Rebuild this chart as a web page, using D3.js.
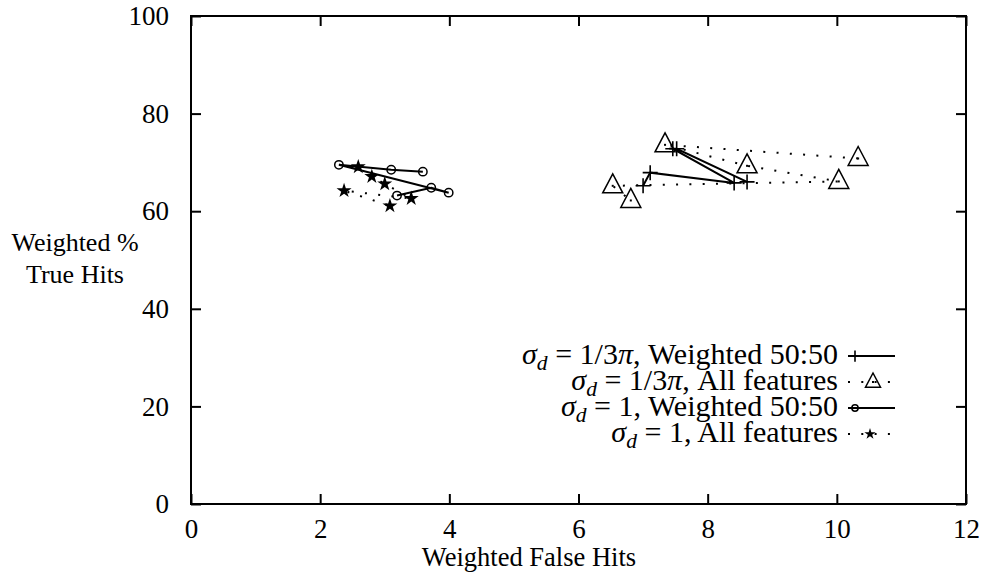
<!DOCTYPE html>
<html><head><meta charset="utf-8"><script src="https://cdn.jsdelivr.net/npm/d3@7"></script></head>
<body style="margin:0">
<svg id="figure" width="985" height="576"></svg>
<script>
// ---- data ----
const xTicks = [0, 2, 4, 6, 8, 10, 12];
const yTicks = [0, 20, 40, 60, 80, 100];

// sigma_d = 1/3pi, Weighted 50:50 (plus, solid)
const plusX = [7.00, 7.11, 8.41, 7.46, 7.52, 8.61];
const plusY = [65.2, 67.9, 65.8, 72.8, 72.8, 66.0];
// sigma_d = 1/3pi, All features (triangle, dotted)
const triX = [10.33, 7.34, 8.61, 10.03, 6.53, 6.81];
const triY = [70.8, 73.6, 69.3, 66.1, 65.2, 62.2];
// sigma_d = 1, Weighted 50:50 (circle, solid)
const circX = [3.59, 3.10, 2.29, 3.99, 3.72, 3.19];
const circY = [68.1, 68.5, 69.5, 63.8, 64.8, 63.2];
// sigma_d = 1, All features (star, dotted)
const starX = [2.59, 2.80, 3.00, 3.41, 2.37, 3.08];
const starY = [69.1, 67.1, 65.6, 62.6, 64.2, 61.1];

const sigmaValues = ["1/3π", "1/3π", "1", "1"];
const featureLabels = ["Weighted 50:50", "All features", "Weighted 50:50", "All features"];
const markerKinds = ["plus", "triangle", "circle", "star"];
const lineKinds = ["solid", "dotted", "solid", "dotted"];

const xTitle = "Weighted False Hits";
const yTitleLines = ["Weighted %", "True Hits"];

// ---- layout ----
const SERIF = '"Liberation Serif", "Times New Roman", Tinos';
const L = 191, R = 966, T = 16, B = 504;
const svg = d3.select("#figure");
const x = d3.scaleLinear().domain([0, 12]).range([L, R]);
const y = d3.scaleLinear().domain([0, 100]).range([B, T]);
const DOT = "2,11.3";

function txt(sel, size) {
  return sel.style("font-family", SERIF, "important").style("font-size", (size || 26) + "px", "important");
}

// axes (ticks inward, mirrored)
const tickLen = 10;
function styleAxis(g) {
  g.attr("font-family", null).attr("font-size", null);
  g.select(".domain").remove();
  g.selectAll(".tick line").attr("stroke", "#000").attr("stroke-width", 2);
  g.selectAll(".tick text").attr("fill", "#000").call(txt, 27);
}
svg.append("g").attr("transform", `translate(0,${B})`)
  .call(d3.axisBottom(x).tickValues(xTicks).tickSizeInner(-tickLen).tickSizeOuter(0).tickPadding(15).tickFormat(d3.format("d")))
  .call(styleAxis);
svg.append("g").attr("transform", `translate(0,${T})`)
  .call(d3.axisTop(x).tickValues(xTicks).tickSizeInner(-tickLen).tickSizeOuter(0).tickFormat(""))
  .call(styleAxis);
svg.append("g").attr("transform", `translate(${L},0)`)
  .call(d3.axisLeft(y).tickValues(yTicks).tickSizeInner(-tickLen).tickSizeOuter(0).tickPadding(22).tickFormat(d3.format("d")))
  .call(styleAxis);
svg.append("g").attr("transform", `translate(${R},0)`)
  .call(d3.axisRight(y).tickValues(yTicks).tickSizeInner(-tickLen).tickSizeOuter(0).tickFormat(""))
  .call(styleAxis);

// frame
svg.append("rect").attr("x", L).attr("y", T).attr("width", R - L).attr("height", B - T)
  .attr("fill", "none").attr("stroke", "#000").attr("stroke-width", 2);

// titles
svg.append("text").attr("x", 529).attr("y", 566).attr("text-anchor", "middle")
  .call(txt, 26.5).text(xTitle);
svg.append("g").selectAll("text").data(yTitleLines).join("text")
  .attr("x", 75).attr("y", (d, i) => 251 + i * 32).attr("text-anchor", "middle")
  .call(txt, 26).text(d => d);

// markers
function drawMarker(g, kind, cx, cy, scale) {
  const s = scale || 1;
  if (kind === "plus") {
    const a = 7.5 * s;
    g.append("path").attr("d", `M${cx - a},${cy}H${cx + a}M${cx},${cy - a}V${cy + a}`)
      .attr("stroke", "#000").attr("stroke-width", 1.6).attr("fill", "none");
  } else if (kind === "triangle") {
    g.append("path").attr("d", `M${cx},${cy - 12 * s}L${cx + 10 * s},${cy + 7 * s}L${cx - 10 * s},${cy + 7 * s}Z`)
      .attr("stroke", "#000").attr("stroke-width", 1.5).attr("fill", "none");
    g.append("rect").attr("x", cx - 1).attr("y", cy - 1).attr("width", 2).attr("height", 2).attr("fill", "#000");
  } else if (kind === "circle") {
    g.append("circle").attr("cx", cx).attr("cy", cy).attr("r", 4.2 * s)
      .attr("stroke", "#000").attr("stroke-width", 1.5).attr("fill", "none");
  } else if (kind === "star") {
    g.append("path").attr("d", d3.symbol().type(d3.symbolStar).size(70 * s * s)())
      .attr("transform", `translate(${cx},${cy})`).attr("fill", "#000");
  }
}

const series = [
  { xs: plusX, ys: plusY },
  { xs: triX, ys: triY },
  { xs: circX, ys: circY },
  { xs: starX, ys: starY }
];
const line = d3.line().x(d => x(d[0])).y(d => y(d[1]));
const plot = svg.append("g");
series.forEach((s, i) => {
  const pts = s.xs.map((v, j) => [v, s.ys[j]]);
  plot.append("path").attr("d", line(pts)).attr("fill", "none").attr("stroke", "#000")
    .attr("stroke-width", 2)
    .attr("stroke-dasharray", lineKinds[i] === "dotted" ? DOT : null);
});
series.forEach((s, i) => {
  s.xs.forEach((v, j) => drawMarker(plot, markerKinds[i], x(v), y(s.ys[j]), 1));
});

// legend
const legRowY = [356, 382, 408, 434];
const legTextRight = 838;
const legLineX0 = 848, legLineX1 = 895;
const legMarkX = [855, 873, 855, 870];
const leg = svg.append("g");
const legTexts = [];
sigmaValues.forEach((sv, i) => {
  const ty = legRowY[i] + 8;
  const t = leg.append("text").attr("x", legTextRight).attr("y", ty).attr("text-anchor", "end").call(txt, 27);
  t.append("tspan").style("font-style", "italic").text("σ");
  t.append("tspan").style("font-style", "italic").attr("dy", 6).style("font-size", "0.72em").text("d");
  t.append("tspan").attr("dy", -6).text(" = ");
  if (sv.endsWith("π")) {
    t.append("tspan").text(sv.slice(0, -1));
    t.append("tspan").style("font-style", "italic").text("π");
  } else {
    t.append("tspan").text(sv);
  }
  t.append("tspan").text(", " + featureLabels[i]);
  legTexts.push(t);

  leg.append("line").attr("x1", legLineX0).attr("x2", legLineX1)
    .attr("y1", legRowY[i]).attr("y2", legRowY[i])
    .attr("stroke", "#000").attr("stroke-width", 2)
    .attr("stroke-dasharray", lineKinds[i] === "dotted" ? DOT : null);
  drawMarker(leg, markerKinds[i], legMarkX[i], legRowY[i], 0.75);
});
function fitLegend() {
  legTexts.forEach(t => t.style("font-size", "27px", "important"));
  const w0 = legTexts[0].node().getComputedTextLength();
  if (w0 > 0) {
    const fs = Math.max(24, Math.min(30, 27 * 325 / w0));
    legTexts.forEach(t => t.style("font-size", fs + "px", "important"));
  }
}
fitLegend();
if (document.fonts && document.fonts.load) {
  document.fonts.load('27px "Liberation Serif"').then(fitLegend).catch(() => {});
}
</script></body></html>
